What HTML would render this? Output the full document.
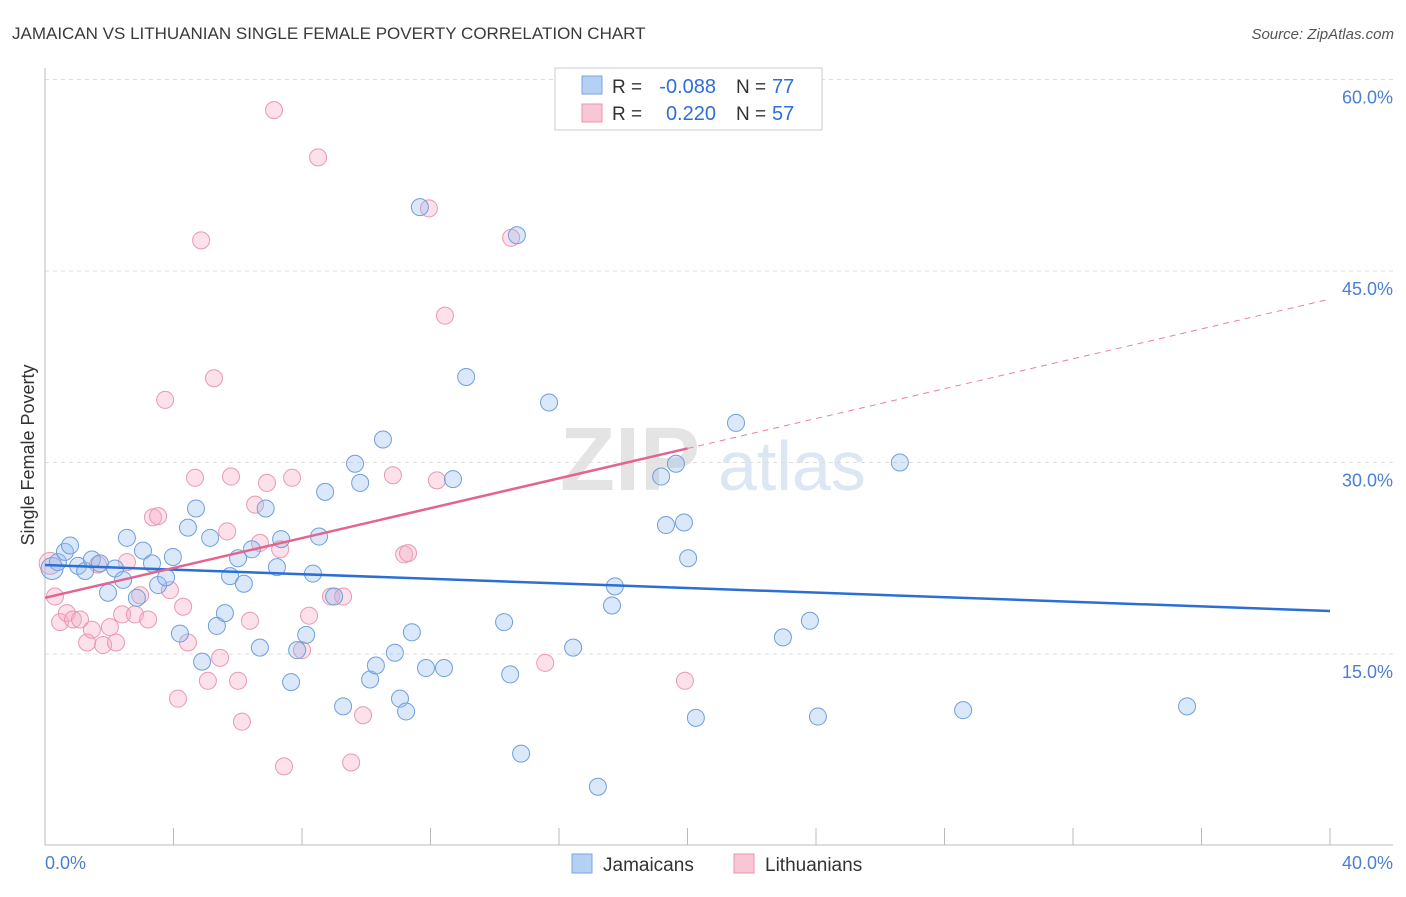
<!DOCTYPE html>
<html><head><meta charset="utf-8"><style>
body{margin:0;background:#fff;font-family:"Liberation Sans",sans-serif}
svg text{font-family:"Liberation Sans",sans-serif}
</style></head><body>
<svg id="chart" width="1406" height="892">
<text x="12" y="39" font-size="17" fill="#3a3a3a">JAMAICAN VS LITHUANIAN SINGLE FEMALE POVERTY CORRELATION CHART</text>
<text x="1394" y="39" font-size="15" fill="#555" text-anchor="end" font-style="italic">Source: ZipAtlas.com</text>
<text x="560" y="490" font-size="90" fill="#e4e4e4" font-family="Liberation Serif" font-weight="bold">ZIP</text>
<text x="718" y="490" font-size="70" fill="#dde6f3">atlas</text>
<text transform="translate(34,455) rotate(-90)" font-size="18" fill="#333" text-anchor="middle">Single Female Poverty</text>
<g id="grid"></g><g id="axes"></g><g id="pts"></g><g id="trend"></g>
<g>
<rect x="555" y="68" width="267" height="62" fill="#fff" stroke="#ccc"/>
<rect x="582" y="76" width="20" height="18" fill="#b5d0f5" stroke="#7aa5e0"/>
<text x="612" y="93" font-size="19" fill="#333">R =</text>
<text x="716" y="93" font-size="20" fill="#2f6ed8" text-anchor="end">-0.088</text>
<text x="736" y="93" font-size="19" fill="#333">N =</text>
<text x="772" y="93" font-size="20" fill="#2f6ed8">77</text>
<rect x="582" y="104" width="20" height="18" fill="#f8c6d4" stroke="#e896ae"/>
<text x="612" y="120" font-size="19" fill="#333">R =</text>
<text x="716" y="120" font-size="20" fill="#2f6ed8" text-anchor="end">0.220</text>
<text x="736" y="120" font-size="19" fill="#333">N =</text>
<text x="772" y="120" font-size="20" fill="#2f6ed8">57</text>
</g>
<g>
<rect x="572" y="854" width="20" height="19" fill="#b5d0f5" stroke="#7aa5e0"/>
<text x="603" y="871" font-size="19" fill="#333">Jamaicans</text>
<rect x="734" y="854" width="20" height="19" fill="#f8c6d4" stroke="#e896ae"/>
<text x="765" y="871" font-size="19" fill="#333">Lithuanians</text>
</g>
</svg>
<script>
const yTicks=[15,30,45,60];
const yTickLabels=["15.0%","30.0%","45.0%","60.0%"];
const blueX=[0.22,0.40,0.62,0.78,1.03,1.25,1.46,1.71,1.96,2.18,2.43,2.55,2.86,3.05,3.33,3.52,3.77,3.98,4.20,4.45,4.70,4.89,5.14,5.35,5.60,5.76,6.01,6.19,6.44,6.69,6.87,7.22,7.35,7.66,7.85,8.13,8.34,8.53,8.72,9.00,9.28,9.65,9.81,10.12,10.30,10.52,10.89,11.05,11.24,11.42,11.67,11.86,12.42,12.70,13.11,14.29,14.48,14.69,14.82,15.69,16.44,17.21,17.65,17.74,19.18,19.33,19.64,19.89,20.02,20.26,21.51,22.97,23.81,24.06,26.61,28.58,35.55];
const blueY=[21.7,22.2,23.0,23.5,21.9,21.5,22.4,22.1,19.8,21.7,20.8,24.1,19.4,23.1,22.1,20.4,21.0,22.6,16.6,24.9,26.4,14.4,24.1,17.2,18.2,21.1,22.5,20.5,23.2,15.5,26.4,21.8,24.0,12.8,15.3,16.5,21.3,24.2,27.7,19.5,10.9,29.9,28.4,13.0,14.1,31.8,15.1,11.5,10.5,16.7,50.0,13.9,13.9,28.7,36.7,17.5,13.4,47.8,7.2,34.7,15.5,4.6,18.8,20.3,28.9,25.1,29.9,25.3,22.5,10.0,33.1,16.3,17.6,10.1,30.0,10.6,10.9];
const pinkX=[0.16,0.31,0.47,0.68,0.87,1.09,1.31,1.46,1.65,1.81,2.02,2.21,2.40,2.55,2.80,2.96,3.21,3.36,3.52,3.74,3.89,4.14,4.30,4.45,4.67,4.86,5.07,5.26,5.45,5.67,5.79,6.01,6.13,6.38,6.54,6.69,6.91,7.13,7.32,7.44,7.69,8.00,8.22,8.50,8.90,9.28,9.53,9.90,10.83,11.18,11.30,11.95,12.20,12.45,14.51,15.57,19.92];
const pinkY=[22.1,19.5,17.5,18.2,17.7,17.7,15.9,16.9,22.0,15.7,17.1,15.9,18.1,22.2,18.1,19.6,17.7,25.7,25.8,34.9,20.0,11.5,18.7,15.9,28.8,47.4,12.9,36.6,14.7,24.6,28.9,12.9,9.7,17.6,26.7,23.7,28.4,57.6,23.2,6.2,28.8,15.3,18.0,53.9,19.5,19.5,6.5,10.2,29.0,22.8,22.9,49.9,28.6,41.5,47.6,14.3,12.9];
const blueTrend=[21.97,18.37];
const pinkTrend=[19.4,42.8];
const pinkSolidEnd=20;

const NS="http://www.w3.org/2000/svg";
const X=v=>45+v*32.125;
const Y=v=>845.5-v*12.767;
function mk(tag,attrs,parent){const e=document.createElementNS(NS,tag);for(const k in attrs)e.setAttribute(k,attrs[k]);parent.appendChild(e);return e;}
const grid=document.getElementById('grid'),axes=document.getElementById('axes'),pts=document.getElementById('pts'),trend=document.getElementById('trend');
yTicks.forEach((t,i)=>{
 const l=mk('line',{x1:45,x2:1393,y1:Y(t),y2:Y(t),stroke:'#ddd','stroke-dasharray':'4,4'},grid);
 
 
 const tx=mk('text',{x:1393,y:Y(t)+24,'font-size':18,fill:'#4a7fd4','text-anchor':'end'},grid);
 tx.textContent=yTickLabels[i];
 
 
});
const ax=mk('line',{x1:45,x2:45,y1:68,y2:845,stroke:'#bbb'},axes);


const bx=mk('line',{x1:45,x2:1393,y1:845,y2:845,stroke:'#bbb'},axes);


for(let i=1;i<=10;i++){const v=i*4;const t=mk('line',{x1:X(v),x2:X(v),y1:828,y2:845,stroke:'#bbb'},axes);
 
 }
const xl0=mk('text',{x:45,y:869,'font-size':18,fill:'#4a7fd4'},axes);xl0.textContent='0.0%';


const xl1=mk('text',{x:1393,y:869,'font-size':18,fill:'#4a7fd4','text-anchor':'end'},axes);xl1.textContent='40.0%';


pinkX.forEach((v,i)=>{const c=mk('circle',{cx:X(v),cy:Y(pinkY[i]),r:i===0?11:8.5,fill:'rgba(245,170,195,0.35)',stroke:'#e899b2','stroke-width':1},pts);
 
 });
blueX.forEach((v,i)=>{const c=mk('circle',{cx:X(v),cy:Y(blueY[i]),r:i===0?11:8.5,fill:'rgba(150,190,240,0.35)',stroke:'#6f9fdc','stroke-width':1},pts);
 
 });
const bt=mk('line',{x1:X(0),y1:Y(blueTrend[0]),x2:X(40),y2:Y(blueTrend[1]),stroke:'#2b6fd6','stroke-width':2.5},trend);


const pm=pinkTrend[0]+(pinkTrend[1]-pinkTrend[0])*pinkSolidEnd/40;
const ps=mk('line',{x1:X(0),y1:Y(pinkTrend[0]),x2:X(pinkSolidEnd),y2:Y(pm),stroke:'#e4648e','stroke-width':2.5},trend);


const pd=mk('line',{x1:X(pinkSolidEnd),y1:Y(pm),x2:X(40),y2:Y(pinkTrend[1]),stroke:'#e8809f','stroke-width':1,'stroke-dasharray':'6,5'},trend);


</script>
</body></html>
